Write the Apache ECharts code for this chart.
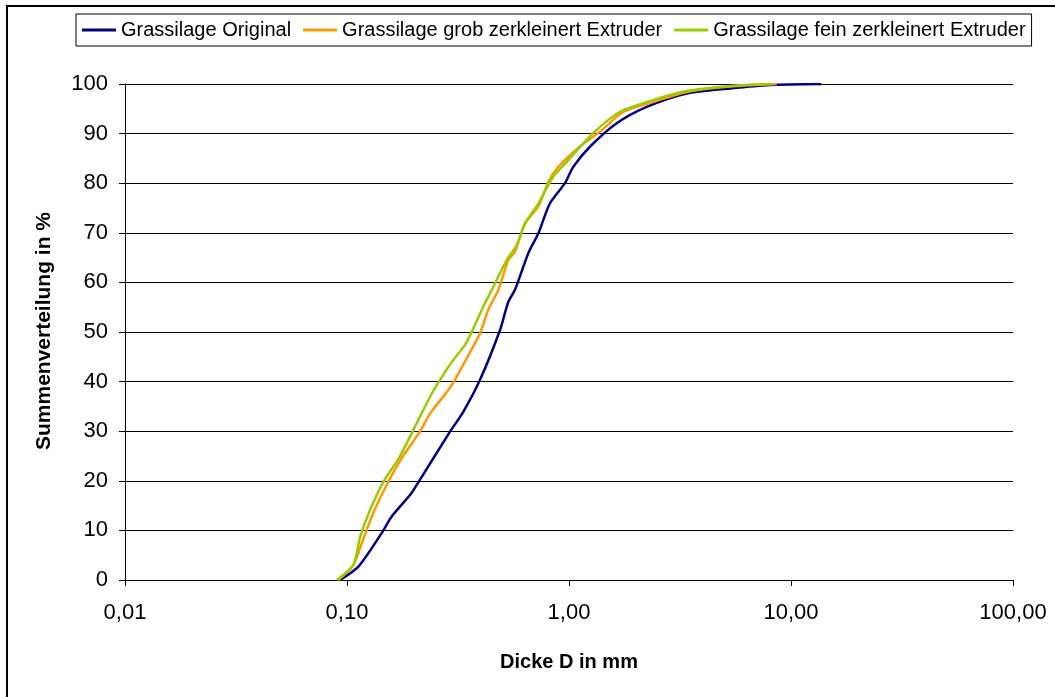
<!DOCTYPE html>
<html>
<head>
<meta charset="utf-8">
<script src="https://cdn.jsdelivr.net/npm/echarts@6/dist/echarts.min.js"></script>
<style>
html,body{margin:0;padding:0;background:#fff;}
#chart{width:1055px;height:697px;}
</style>
</head>
<body>
<div id="chart"></div>
<script>
var seriesNames = ['Grassilage Original', 'Grassilage grob zerkleinert Extruder', 'Grassilage fein zerkleinert Extruder'];
var seriesColors = ['#000080', '#FF9900', '#99CC00'];

// Dicke D in mm (x) and Summenverteilung in % (y)
var originalX = [0.093, 0.1125, 0.143, 0.159, 0.195, 0.213, 0.291, 0.334, 0.397, 0.489, 0.533, 0.571, 0.656, 0.728, 0.820, 0.959, 1.045, 1.245, 1.64, 2.24, 3.39, 5.31, 8.04, 13.7];
var originalY = [0, 2.7, 9.4, 12.8, 17.5, 20.2, 29.9, 33.9, 40.3, 50.4, 56.1, 58.5, 65.9, 69.9, 75.9, 80.0, 83.3, 87.4, 92.1, 95.4, 98.1, 99.1, 99.8, 100];

var grobX = [0.0914, 0.1067, 0.118, 0.131, 0.151, 0.176, 0.213, 0.237, 0.286, 0.306, 0.346, 0.397, 0.432, 0.481, 0.533, 0.571, 0.634, 0.728, 0.807, 0.895, 1.12, 1.38, 1.76, 2.40, 3.39, 5.31, 8.63];
var grobY = [0, 3.0, 8.1, 13.4, 19.2, 24.5, 29.9, 33.6, 38.3, 40.3, 44.7, 49.7, 54.4, 58.5, 64.5, 66.2, 71.9, 75.3, 80.3, 83.3, 87.4, 90.4, 94.4, 96.4, 98.4, 99.5, 100];

var feinX = [0.090, 0.1067, 0.1146, 0.127, 0.146, 0.173, 0.206, 0.241, 0.262, 0.297, 0.340, 0.365, 0.411, 0.449, 0.524, 0.581, 0.634, 0.728, 0.849, 0.977, 1.285, 1.70, 2.40, 3.39, 5.31, 8.3];
var feinY = [0, 3.0, 8.7, 14.1, 19.8, 24.9, 31.6, 37.6, 40.3, 44.0, 47.4, 50.1, 55.1, 58.5, 64.5, 67.5, 71.9, 75.9, 81.3, 84.3, 90.1, 94.4, 96.8, 98.6, 99.6, 100];

var xTickValues = [0.01, 0.1, 1, 10, 100];
var xTickLabels = ['0,01', '0,10', '1,00', '10,00', '100,00'];
var xAxisTitle = 'Dicke D in mm';
var yAxisTitle = 'Summenverteilung in %';

function pairs(xs, ys) {
  return xs.map(function (x, i) { return [x, ys[i]]; });
}

var chart = echarts.init(document.getElementById('chart'), null, {renderer: 'canvas'});
var FONT = 'Liberation Sans, Arial, sans-serif';

var allData = [pairs(originalX, originalY), pairs(grobX, grobY), pairs(feinX, feinY)];

chart.setOption({
  animation: false,
  backgroundColor: '#fff',
  textStyle: {fontFamily: FONT},
  grid: {left: 125, right: 42, top: 84, bottom: 117, containLabel: false},
  legend: {
    left: 76, top: 14,
    padding: [6, 6, 6, 6],
    borderColor: '#000', borderWidth: 1,
    icon: 'rect', itemWidth: 34, itemHeight: 3, itemGap: 12,
    textStyle: {fontFamily: FONT, fontSize: 20, color: '#000'},
    data: seriesNames
  },
  xAxis: {
    type: 'log', logBase: 10, min: 0.01, max: 100,
    axisLine: {show: true, lineStyle: {color: '#000', width: 1}},
    axisTick: {show: true, length: 6, inside: false, lineStyle: {color: '#000'}},
    splitLine: {show: false},
    minorTick: {show: false},
    axisLabel: {
      fontFamily: FONT, fontSize: 22, color: '#000', margin: 22,
      formatter: function (v) {
        for (var i = 0; i < xTickValues.length; i++) {
          if (Math.abs(Math.log10(v) - Math.log10(xTickValues[i])) < 1e-6) return xTickLabels[i];
        }
        return '';
      }
    }
  },
  yAxis: {
    type: 'value', min: 0, max: 100, interval: 10,
    axisLine: {show: true, lineStyle: {color: '#000', width: 1}},
    axisTick: {show: true, length: 6, lineStyle: {color: '#000'}},
    splitLine: {show: true, lineStyle: {color: '#000', width: 1}},
    axisLabel: {fontFamily: FONT, fontSize: 22, color: '#000', margin: 17}
  },
  series: seriesNames.map(function (name, i) {
    return {
      name: name, type: 'line', data: allData[i],
      showSymbol: false, symbol: 'none', smooth: 0.25,
      color: seriesColors[i],
      lineStyle: {color: seriesColors[i], width: 2.5},
      itemStyle: {color: seriesColors[i]},
      z: 3 + i
    };
  }),
  graphic: [
    {type: 'line', shape: {x1: 6, y1: 6, x2: 1055, y2: 6}, style: {stroke: '#000', lineWidth: 2}},
    {type: 'line', shape: {x1: 7, y1: 5, x2: 7, y2: 697}, style: {stroke: '#000', lineWidth: 2}},
    {type: 'text', x: 569, y: 662,
     style: {text: xAxisTitle, font: 'bold 20px ' + FONT, fill: '#000', textAlign: 'center', textVerticalAlign: 'middle'}},
    {type: 'text', rotation: Math.PI / 2, x: 44, y: 331,
     style: {text: yAxisTitle, font: 'bold 21px ' + FONT, fill: '#000', textAlign: 'center', textVerticalAlign: 'middle'}}
  ]
});
</script>
</body>
</html>
